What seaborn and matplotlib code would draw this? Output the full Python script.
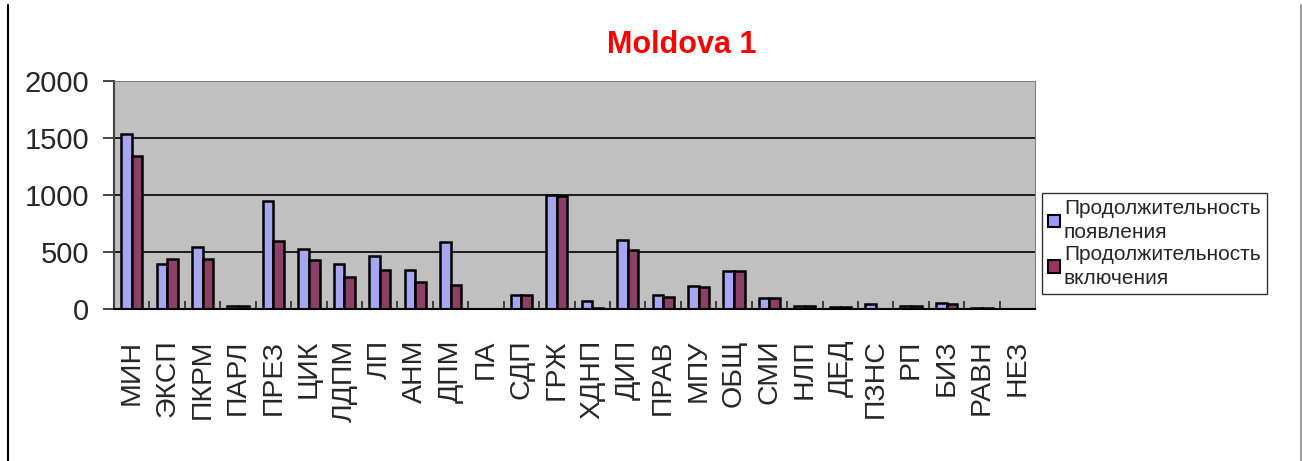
import pandas as pd
import seaborn as sns
import matplotlib.pyplot as plt
from matplotlib.lines import Line2D
from matplotlib.patches import Patch

parties = ['МИН', 'ЭКСП', 'ПКРМ', 'ПАРЛ', 'ПРЕЗ', 'ЦИК', 'ЛДПМ', 'ЛП', 'АНМ', 'ДПМ',
           'ПА', 'СДП', 'ГРЖ', 'ХДНП', 'ДИП', 'ПРАВ', 'МПУ', 'ОБЩ', 'СМИ', 'НЛП',
           'ДЕД', 'ПЗНС', 'РП', 'БИЗ', 'РАВН', 'НЕЗ']
appear = [1534, 398, 545, 25, 948, 527, 398, 463, 340, 588,
          0, 126, 1004, 70, 609, 126, 205, 331, 94, 25,
          15, 40, 25, 50, 12, 0]
include = [1340, 439, 439, 25, 597, 427, 281, 340, 240, 214,
           0, 126, 989, 10, 515, 103, 193, 331, 94, 25,
           15, 0, 25, 48, 12, 0]
series = ['Продолжительность\nпоявления', 'Продолжительность\nвключения']
colors = ['#9999FF', '#993366']

df = pd.DataFrame({
    'party': parties * 2,
    'value': appear + include,
    'series': [series[0]] * len(parties) + [series[1]] * len(parties),
})

sns.set_style('white')
plt.rcParams['font.family'] = ['Liberation Sans', 'DejaVu Sans']

fig = plt.figure(figsize=(13.02, 4.61), dpi=100)
ax = fig.add_axes([0.0876, 0.3297, 0.7074, 0.4946])
sns.barplot(data=df, x='party', y='value', hue='series', palette=colors,
            width=0.6, edgecolor='black', linewidth=1.8, legend=False, ax=ax)

ax.set_facecolor('#C0C0C0')
ax.set_ylim(0, 2000)
ax.set_xlim(-0.5, len(parties) - 0.5)
ax.set_yticks([0, 500, 1000, 1500, 2000])
ax.set_axisbelow(True)
ax.yaxis.grid(True, color='black', linewidth=1.2)
ax.tick_params(axis='y', labelsize=21, length=8, width=1.2, direction='out', pad=10, left=True)
ax.tick_params(axis='x', which='major', length=0, labelsize=20.5, pad=22, labelrotation=90)
ax.set_xticks([i + 0.5 for i in range(len(parties) - 1)], minor=True)
ax.tick_params(axis='x', which='minor', direction='in', length=6, width=1.2, bottom=True)
for lab in ax.get_xticklabels():
    lab.set_verticalalignment('top')
ax.set_xlabel('')
ax.set_ylabel('')
ax.spines['bottom'].set_color('black')
ax.spines['bottom'].set_linewidth(1.5)
ax.spines['left'].set_color('#404040')
ax.spines['left'].set_linewidth(1.5)
ax.spines['top'].set_color('#808080')
ax.spines['right'].set_color('#808080')

fig.text(682 / 1302, 1 - 45 / 461, 'Moldova 1', color='red', fontsize=22,
         fontweight='bold', ha='center', va='center')

handles = [Patch(facecolor=c, edgecolor='black', linewidth=1.5) for c in colors]
leg = fig.legend(handles, series, loc='upper left', bbox_to_anchor=(1042 / 1302, 1 - 193 / 461),
                 fontsize=15, frameon=True, fancybox=False, edgecolor='black',
                 handlelength=0.55, handleheight=0.55, handletextpad=0.2,
                 borderpad=0.3, labelspacing=0.1, borderaxespad=0)
leg.get_frame().set_linewidth(1.0)
for t in leg.get_texts():
    t.set_linespacing(1.35)

fig.add_artist(Line2D([8 / 1302, 8 / 1302], [0, 0.99], color='black', linewidth=1.5))
fig.add_artist(Line2D([1300.5 / 1302, 1300.5 / 1302], [0, 0.99], color='#a0a0a0', linewidth=1.5))

fig.savefig('out.png', dpi=100, facecolor='white')
